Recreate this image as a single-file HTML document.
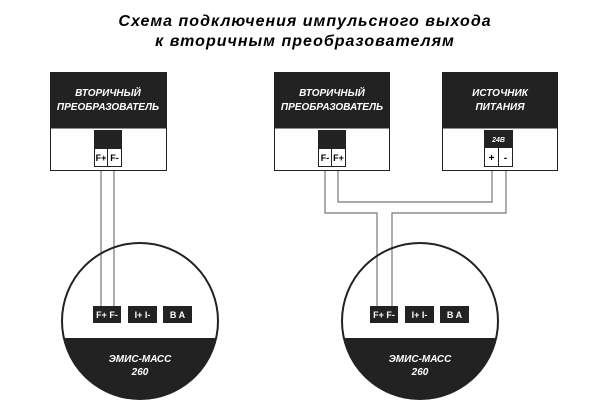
<!DOCTYPE html>
<html><head><meta charset="utf-8"><style>
body{margin:0;background:#fff;width:608px;height:400px;overflow:hidden}
</style></head><body>
<svg width="608" height="400" viewBox="0 0 608 400" xmlns="http://www.w3.org/2000/svg" font-family="Liberation Sans, DejaVu Sans, sans-serif">
<text x="305" y="26" text-anchor="middle" font-size="16" font-style="italic" font-weight="bold" letter-spacing="1">Схема подключения импульсного выхода</text>
<text x="305" y="46" text-anchor="middle" font-size="16" font-style="italic" font-weight="bold" letter-spacing="1">к вторичным преобразователям</text>

<!-- wires -->
<g stroke="#777" stroke-width="1.2" fill="none">
<path d="M101 166V306M114 166V306"/>
<path d="M325 166V213H377V306"/>
<path d="M338 166V202H492V166"/>
<path d="M506 166V213H392V306"/>
</g>

<!-- left box -->
<rect x="50.5" y="72.5" width="116" height="98" fill="#fff" stroke="#222"/>
<rect x="50.5" y="72.5" width="116" height="56" fill="#222"/>
<text x="108" y="96" text-anchor="middle" fill="#fff" font-size="10" font-weight="bold" font-style="italic">ВТОРИЧНЫЙ</text>
<text x="108" y="110" text-anchor="middle" fill="#fff" font-size="10" font-weight="bold" font-style="italic">ПРЕОБРАЗОВАТЕЛЬ</text>
<rect x="94" y="130" width="28" height="18" fill="#222"/>
<rect x="94.5" y="148.5" width="13" height="18" fill="#fff" stroke="#222"/>
<rect x="107.5" y="148.5" width="14" height="18" fill="#fff" stroke="#222"/>
<text x="101" y="161" text-anchor="middle" font-size="9" font-weight="bold">F+</text>
<text x="114.5" y="161" text-anchor="middle" font-size="9" font-weight="bold">F-</text>

<!-- right box 1 -->
<rect x="274.5" y="72.5" width="115" height="98" fill="#fff" stroke="#222"/>
<rect x="274.5" y="72.5" width="115" height="56" fill="#222"/>
<text x="332" y="96" text-anchor="middle" fill="#fff" font-size="10" font-weight="bold" font-style="italic">ВТОРИЧНЫЙ</text>
<text x="332" y="110" text-anchor="middle" fill="#fff" font-size="10" font-weight="bold" font-style="italic">ПРЕОБРАЗОВАТЕЛЬ</text>
<rect x="318" y="130" width="28" height="18" fill="#222"/>
<rect x="318.5" y="148.5" width="13" height="18" fill="#fff" stroke="#222"/>
<rect x="331.5" y="148.5" width="14" height="18" fill="#fff" stroke="#222"/>
<text x="325" y="161" text-anchor="middle" font-size="9" font-weight="bold">F-</text>
<text x="338.5" y="161" text-anchor="middle" font-size="9" font-weight="bold">F+</text>

<!-- source box -->
<rect x="442.5" y="72.5" width="115" height="98" fill="#fff" stroke="#222"/>
<rect x="442.5" y="72.5" width="115" height="56" fill="#222"/>
<text x="500" y="96" text-anchor="middle" fill="#fff" font-size="10" font-weight="bold" font-style="italic">ИСТОЧНИК</text>
<text x="500" y="110" text-anchor="middle" fill="#fff" font-size="10" font-weight="bold" font-style="italic">ПИТАНИЯ</text>
<rect x="484" y="130" width="29" height="17" fill="#222"/>
<text x="498.5" y="142" text-anchor="middle" fill="#fff" font-size="7" font-weight="bold" font-style="italic">24В</text>
<rect x="484.5" y="147.5" width="14" height="19" fill="#fff" stroke="#222"/>
<rect x="498.5" y="147.5" width="14" height="19" fill="#fff" stroke="#222"/>
<text x="491.5" y="161" text-anchor="middle" font-size="10" font-weight="bold">+</text>
<text x="505.5" y="161" text-anchor="middle" font-size="10" font-weight="bold">-</text>

<defs>
<clipPath id="c1"><circle cx="140" cy="321" r="78"/></clipPath>
<clipPath id="c2"><circle cx="420" cy="321" r="78"/></clipPath>
</defs>

<!-- circles -->
<g>
<circle cx="140" cy="321" r="78" fill="none" stroke="#222" stroke-width="2"/>
<rect x="60" y="338" width="160" height="70" fill="#222" clip-path="url(#c1)"/>
<text x="140" y="362" text-anchor="middle" fill="#fff" font-size="10" font-weight="bold" font-style="italic">ЭМИС-МАСС</text>
<text x="140" y="375" text-anchor="middle" fill="#fff" font-size="10" font-weight="bold" font-style="italic">260</text>
<rect x="93" y="306" width="28" height="17" fill="#222"/>
<rect x="128" y="306" width="29" height="17" fill="#222"/>
<rect x="163" y="306" width="29" height="17" fill="#222"/>
<text x="107" y="318" text-anchor="middle" fill="#fff" font-size="9" font-weight="bold">F+ F-</text>
<text x="142.5" y="318" text-anchor="middle" fill="#fff" font-size="9" font-weight="bold">I+ I-</text>
<text x="177.5" y="318" text-anchor="middle" fill="#fff" font-size="9" font-weight="bold">B A</text>
</g>
<g>
<circle cx="420" cy="321" r="78" fill="none" stroke="#222" stroke-width="2"/>
<rect x="340" y="338" width="160" height="70" fill="#222" clip-path="url(#c2)"/>
<text x="420" y="362" text-anchor="middle" fill="#fff" font-size="10" font-weight="bold" font-style="italic">ЭМИС-МАСС</text>
<text x="420" y="375" text-anchor="middle" fill="#fff" font-size="10" font-weight="bold" font-style="italic">260</text>
<rect x="370" y="306" width="28" height="17" fill="#222"/>
<rect x="405" y="306" width="29" height="17" fill="#222"/>
<rect x="440" y="306" width="29" height="17" fill="#222"/>
<text x="384" y="318" text-anchor="middle" fill="#fff" font-size="9" font-weight="bold">F+ F-</text>
<text x="419.5" y="318" text-anchor="middle" fill="#fff" font-size="9" font-weight="bold">I+ I-</text>
<text x="454.5" y="318" text-anchor="middle" fill="#fff" font-size="9" font-weight="bold">B A</text>
</g>
</svg>
</body></html>
